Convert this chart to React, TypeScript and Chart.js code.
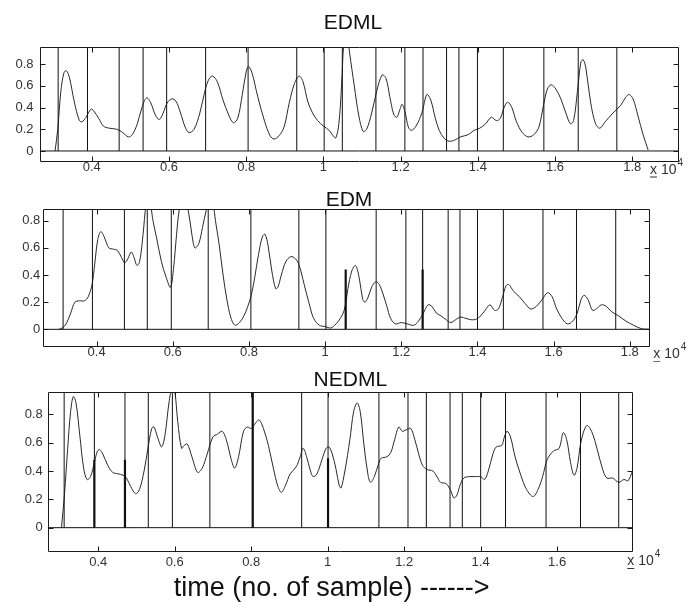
import React, { useEffect, useRef } from 'react';
import { Chart, registerables } from 'chart.js';

Chart.register(...registerables);

// ---- shared tick values (x in units of 10^4 samples) ----
const X_TICKS = [0.4, 0.6, 0.8, 1.0, 1.2, 1.4, 1.6, 1.8];
const Y_TICKS = [0, 0.2, 0.4, 0.6, 0.8];
const X_AXIS_LABEL = 'time (no. of sample) ------>';

// ---- EDML ----
const EDML_X = [0.305, 0.312, 0.320, 0.328, 0.334, 0.342, 0.355, 0.368, 0.375, 0.385, 0.398, 0.405, 0.418, 0.430, 0.445, 0.465, 0.480, 0.495, 0.505, 0.518, 0.530, 0.542, 0.552, 0.565, 0.575, 0.585, 0.595, 0.607, 0.618, 0.630, 0.642, 0.652, 0.665, 0.680, 0.695, 0.705, 0.713, 0.725, 0.740, 0.755, 0.767, 0.778, 0.790, 0.800, 0.806, 0.815, 0.830, 0.848, 0.862, 0.872, 0.885, 0.898, 0.912, 0.925, 0.937, 0.947, 0.960, 0.972, 0.985, 1.000, 1.015, 1.025, 1.032, 1.040, 1.047, 1.053, 1.060, 1.068, 1.080, 1.092, 1.103, 1.112, 1.125, 1.138, 1.152, 1.162, 1.172, 1.182, 1.190, 1.198, 1.204, 1.212, 1.220, 1.228, 1.240, 1.255, 1.268, 1.278, 1.290, 1.300, 1.312, 1.325, 1.340, 1.355, 1.375, 1.390, 1.405, 1.420, 1.435, 1.448, 1.458, 1.468, 1.477, 1.488, 1.500, 1.515, 1.530, 1.545, 1.558, 1.570, 1.580, 1.590, 1.602, 1.615, 1.628, 1.640, 1.648, 1.658, 1.667, 1.673, 1.680, 1.692, 1.705, 1.716, 1.730, 1.750, 1.770, 1.782, 1.792, 1.802, 1.815, 1.828, 1.841];
const EDML_Y = [0, 0.2, 0.55, 0.72, 0.74, 0.68, 0.45, 0.28, 0.27, 0.31, 0.385, 0.37, 0.3, 0.23, 0.21, 0.2, 0.17, 0.13, 0.15, 0.25, 0.4, 0.49, 0.45, 0.33, 0.29, 0.35, 0.44, 0.48, 0.46, 0.35, 0.22, 0.17, 0.2, 0.35, 0.58, 0.67, 0.69, 0.64, 0.47, 0.33, 0.26, 0.3, 0.52, 0.73, 0.78, 0.72, 0.5, 0.27, 0.14, 0.11, 0.14, 0.22, 0.45, 0.62, 0.69, 0.64, 0.45, 0.35, 0.28, 0.23, 0.19, 0.14, 0.12, 0.25, 0.6, 1.0, 1.1, 0.9, 0.6, 0.32, 0.18, 0.2, 0.35, 0.55, 0.7, 0.67, 0.5, 0.34, 0.31, 0.38, 0.43, 0.35, 0.22, 0.19, 0.23, 0.35, 0.52, 0.47, 0.3, 0.19, 0.12, 0.09, 0.1, 0.13, 0.15, 0.19, 0.21, 0.25, 0.31, 0.28, 0.3, 0.4, 0.45, 0.4, 0.27, 0.17, 0.13, 0.15, 0.22, 0.42, 0.57, 0.61, 0.57, 0.48, 0.35, 0.25, 0.28, 0.55, 0.82, 0.84, 0.76, 0.45, 0.25, 0.21, 0.27, 0.35, 0.42, 0.49, 0.52, 0.48, 0.32, 0.15, 0.01];
const EDML_BOUNDS = [0.313, 0.389, 0.471, 0.533, 0.594, 0.695, 0.805, 0.931, 1.002, 1.049, 1.136, 1.211, 1.258, 1.319, 1.351, 1.399, 1.466, 1.571, 1.660, 1.760];
const EDML_STEM_X: number[] = [];
const EDML_STEM_H: number[] = [];

// ---- EDM ----
const EDM_X = [0.300, 0.310, 0.320, 0.332, 0.343, 0.355, 0.368, 0.378, 0.388, 0.395, 0.403, 0.411, 0.420, 0.432, 0.445, 0.455, 0.465, 0.474, 0.482, 0.491, 0.498, 0.506, 0.513, 0.522, 0.530, 0.538, 0.548, 0.557, 0.570, 0.583, 0.594, 0.602, 0.610, 0.617, 0.628, 0.642, 0.650, 0.658, 0.668, 0.678, 0.688, 0.697, 0.706, 0.712, 0.722, 0.732, 0.742, 0.752, 0.763, 0.775, 0.787, 0.797, 0.806, 0.815, 0.825, 0.835, 0.842, 0.850, 0.860, 0.870, 0.876, 0.885, 0.897, 0.910, 0.922, 0.932, 0.945, 0.958, 0.970, 0.985, 1.000, 1.015, 1.025, 1.035, 1.050, 1.060, 1.070, 1.080, 1.090, 1.098, 1.104, 1.112, 1.122, 1.133, 1.142, 1.152, 1.162, 1.172, 1.185, 1.200, 1.215, 1.233, 1.245, 1.258, 1.270, 1.280, 1.292, 1.304, 1.318, 1.330, 1.342, 1.356, 1.370, 1.390, 1.405, 1.420, 1.433, 1.445, 1.455, 1.466, 1.475, 1.482, 1.495, 1.510, 1.525, 1.540, 1.555, 1.570, 1.584, 1.596, 1.608, 1.622, 1.636, 1.650, 1.662, 1.672, 1.680, 1.690, 1.702, 1.712, 1.725, 1.738, 1.752, 1.770, 1.790, 1.810, 1.830, 1.855];
const EDM_Y = [0, 0.01, 0.04, 0.12, 0.2, 0.21, 0.21, 0.24, 0.33, 0.48, 0.66, 0.72, 0.68, 0.6, 0.59, 0.58, 0.53, 0.49, 0.52, 0.57, 0.53, 0.47, 0.5, 0.7, 0.92, 0.97, 0.8, 0.68, 0.5, 0.38, 0.31, 0.45, 0.7, 0.88, 1.0, 0.85, 0.7, 0.6, 0.63, 0.75, 0.88, 0.97, 0.92, 0.8, 0.62, 0.4, 0.22, 0.09, 0.03, 0.05, 0.1, 0.17, 0.25, 0.38, 0.55, 0.68, 0.7, 0.62, 0.43, 0.3, 0.31, 0.4, 0.5, 0.535, 0.52, 0.47, 0.33, 0.19, 0.08, 0.03, 0.02, 0.01, 0.03, 0.06, 0.14, 0.3, 0.43, 0.47, 0.37, 0.23, 0.2, 0.23, 0.31, 0.35, 0.33, 0.26, 0.17, 0.08, 0.04, 0.05, 0.04, 0.03, 0.06, 0.12, 0.18, 0.17, 0.12, 0.1, 0.07, 0.05, 0.07, 0.09, 0.08, 0.07, 0.09, 0.14, 0.18, 0.14, 0.15, 0.24, 0.32, 0.33, 0.28, 0.24, 0.19, 0.15, 0.17, 0.22, 0.27, 0.24, 0.15, 0.08, 0.04, 0.06, 0.12, 0.22, 0.25, 0.22, 0.14, 0.15, 0.18, 0.17, 0.13, 0.1, 0.06, 0.03, 0.005, 0];
const EDM_BOUNDS = [0.312, 0.389, 0.473, 0.533, 0.596, 0.693, 0.805, 0.931, 1.002, 1.134, 1.212, 1.256, 1.323, 1.354, 1.400, 1.468, 1.572, 1.660, 1.763];
const EDM_STEM_X = [1.054, 1.256];
const EDM_STEM_H = [0.44, 0.44];

// ---- NEDML ----
const NEDML_X = [0.304, 0.312, 0.320, 0.328, 0.335, 0.342, 0.352, 0.362, 0.371, 0.380, 0.390, 0.398, 0.404, 0.412, 0.425, 0.438, 0.452, 0.465, 0.474, 0.485, 0.498, 0.508, 0.520, 0.530, 0.540, 0.546, 0.555, 0.566, 0.575, 0.585, 0.594, 0.600, 0.608, 0.618, 0.625, 0.633, 0.645, 0.660, 0.672, 0.685, 0.700, 0.712, 0.724, 0.735, 0.748, 0.757, 0.767, 0.780, 0.790, 0.800, 0.812, 0.821, 0.832, 0.845, 0.858, 0.870, 0.879, 0.890, 0.902, 0.918, 0.928, 0.936, 0.945, 0.955, 0.962, 0.972, 0.985, 0.996, 1.003, 1.012, 1.022, 1.030, 1.035, 1.045, 1.058, 1.068, 1.077, 1.085, 1.095, 1.105, 1.112, 1.122, 1.133, 1.140, 1.155, 1.165, 1.175, 1.186, 1.195, 1.205, 1.217, 1.228, 1.238, 1.248, 1.260, 1.275, 1.288, 1.295, 1.310, 1.322, 1.330, 1.338, 1.346, 1.356, 1.370, 1.385, 1.400, 1.410, 1.420, 1.432, 1.441, 1.455, 1.462, 1.469, 1.478, 1.490, 1.505, 1.520, 1.537, 1.550, 1.562, 1.574, 1.590, 1.605, 1.616, 1.625, 1.635, 1.644, 1.652, 1.662, 1.677, 1.690, 1.705, 1.718, 1.730, 1.745, 1.761, 1.775, 1.785, 1.797];
const NEDML_Y = [0, 0.24, 0.55, 0.82, 0.925, 0.88, 0.65, 0.42, 0.34, 0.36, 0.46, 0.54, 0.55, 0.52, 0.44, 0.39, 0.38, 0.37, 0.35, 0.29, 0.24, 0.27, 0.4, 0.56, 0.7, 0.71, 0.64, 0.57, 0.66, 0.88, 1.0, 0.97, 0.75, 0.56, 0.58, 0.59, 0.5, 0.39, 0.42, 0.52, 0.64, 0.66, 0.68, 0.62, 0.48, 0.42, 0.5, 0.68, 0.71, 0.7, 0.74, 0.76, 0.7, 0.58, 0.42, 0.29, 0.25, 0.3, 0.38, 0.43, 0.5, 0.56, 0.5, 0.4, 0.36, 0.38, 0.48, 0.56, 0.57, 0.52, 0.41, 0.3, 0.28, 0.4, 0.62, 0.82, 0.88, 0.82, 0.58, 0.38, 0.32, 0.36, 0.45, 0.49, 0.5, 0.53, 0.62, 0.71, 0.68, 0.69, 0.7, 0.62, 0.52, 0.44, 0.41, 0.4, 0.35, 0.32, 0.31, 0.26, 0.21, 0.23, 0.3, 0.35, 0.36, 0.36, 0.36, 0.34, 0.4, 0.52, 0.57, 0.58, 0.64, 0.68, 0.64, 0.5, 0.37, 0.27, 0.22, 0.27, 0.36, 0.48, 0.54, 0.56, 0.67, 0.62, 0.46, 0.37, 0.42, 0.6, 0.72, 0.68, 0.55, 0.42, 0.35, 0.35, 0.32, 0.34, 0.33, 0.4];
const NEDML_BOUNDS = [0.311, 0.390, 0.470, 0.531, 0.594, 0.692, 0.804, 0.932, 1.001, 1.134, 1.210, 1.258, 1.320, 1.352, 1.400, 1.465, 1.571, 1.661, 1.761];
const NEDML_STEM_X = [0.390, 0.470, 0.804, 1.001];
const NEDML_STEM_H = [0.48, 0.48, 0.96, 0.49];

type PanelCfg = {
  title: string;
  xs: number[]; ys: number[]; bounds: number[]; stemX: number[]; stemH: number[];
  xMin: number; xMax: number; yMin: number; yMax: number;
  top: number; height: number;
  area: { left: number; right: number; top: number; bottom: number };
  xPad: number; yPad: number;
  titlePos: [number, number];
  expPos: [number, number];
  axisLabel?: { text: string; x: number; y: number };
};

const PANELS: PanelCfg[] = [
  {
    title: 'EDML', xs: EDML_X, ys: EDML_Y, bounds: EDML_BOUNDS, stemX: EDML_STEM_X, stemH: EDML_STEM_H,
    xMin: 0.266, xMax: 1.921, yMin: -0.097, yMax: 0.958,
    top: 0, height: 182,
    area: { left: 40, right: 679, top: 47, bottom: 161.5 },
    xPad: -2, yPad: 6.5,
    titlePos: [353, 29], expPos: [650, 173.5],
  },
  {
    title: 'EDM', xs: EDM_X, ys: EDM_Y, bounds: EDM_BOUNDS, stemX: EDM_STEM_X, stemH: EDM_STEM_H,
    xMin: 0.26, xMax: 1.853, yMin: -0.128, yMax: 0.886,
    top: 182, height: 180,
    area: { left: 43.3, right: 650, top: 209, bottom: 346.7 },
    xPad: -2, yPad: 3,
    titlePos: [349, 206], expPos: [653.3, 358.3],
  },
  {
    title: 'NEDML', xs: NEDML_X, ys: NEDML_Y, bounds: NEDML_BOUNDS, stemX: NEDML_STEM_X, stemH: NEDML_STEM_H,
    xMin: 0.268, xMax: 1.797, yMin: -0.168, yMax: 0.957,
    top: 362, height: 240,
    area: { left: 47.7, right: 632.5, top: 392, bottom: 551.5 },
    xPad: 3, yPad: 5,
    titlePos: [350.3, 386], expPos: [627.3, 565],
    axisLabel: { text: X_AXIS_LABEL, x: 331.7, y: 596 },
  },
];

const FONT = '"Liberation Sans", Arial, Helvetica, sans-serif';

function makeDecor(cfg: PanelCfg) {
  return {
    id: 'matlabDecor_' + cfg.title,
    afterDatasetsDraw(chart: any) {
      const ctx = chart.ctx as CanvasRenderingContext2D;
      const a = chart.chartArea;
      const xs = chart.scales.x;
      const ys = chart.scales.y;
      ctx.save();
      ctx.strokeStyle = '#1a1a1a';
      ctx.lineWidth = 1;
      const L = Math.round(a.left) + 0.5, R = Math.round(a.right) - 0.5;
      const T = Math.round(a.top) + 0.5, B = Math.round(a.bottom) - 0.5;
      ctx.beginPath();
      ctx.rect(L, T, R - L, B - T);
      ctx.stroke();
      ctx.beginPath();
      for (const v of X_TICKS) {
        if (v < cfg.xMin || v > cfg.xMax) continue;
        const p = Math.round(xs.getPixelForValue(v)) + 0.5;
        ctx.moveTo(p, T); ctx.lineTo(p, T + 5);
        ctx.moveTo(p, B); ctx.lineTo(p, B - 5);
      }
      for (const v of Y_TICKS) {
        const p = Math.round(ys.getPixelForValue(v)) + 0.5;
        ctx.moveTo(L, p); ctx.lineTo(L + 5, p);
        ctx.moveTo(R, p); ctx.lineTo(R - 5, p);
      }
      ctx.stroke();
      ctx.restore();
    },
    afterDraw(chart: any) {
      const ctx = chart.ctx as CanvasRenderingContext2D;
      const off = cfg.top;
      ctx.save();
      ctx.fillStyle = '#111';
      ctx.textBaseline = 'alphabetic';
      // title
      ctx.font = '21px ' + FONT;
      ctx.textAlign = 'center';
      ctx.fillText(cfg.title, cfg.titlePos[0], cfg.titlePos[1] - off);
      // exponent label
      ctx.textAlign = 'left';
      ctx.fillStyle = '#333';
      ctx.font = '14px ' + FONT;
      const ex = cfg.expPos[0], ey = cfg.expPos[1] - off;
      const base = 'x 10';
      ctx.fillText(base, ex, ey);
      const w = ctx.measureText(base).width;
      ctx.fillRect(ex, ey + 3, 7, 1);
      ctx.font = '10px ' + FONT;
      ctx.fillText('4', ex + w + 1, ey - 8);
      // axis label
      if (cfg.axisLabel) {
        ctx.fillStyle = '#111';
        ctx.font = '27px ' + FONT;
        ctx.textAlign = 'center';
        ctx.fillText(cfg.axisLabel.text, cfg.axisLabel.x, cfg.axisLabel.y - off);
      }
      ctx.restore();
    },
  };
}

function Panel({ cfg }: { cfg: PanelCfg }) {
  const ref = useRef<HTMLCanvasElement>(null);
  useEffect(() => {
    const canvas = ref.current;
    if (!canvas) return;
    const curve = cfg.xs.map((x, i) => ({ x, y: cfg.ys[i] }));
    const vlines: any[] = [];
    cfg.bounds.forEach((b) => { vlines.push({ x: b, y: 0 }, { x: b, y: 5 }, { x: b, y: null }); });
    const stems: any[] = [];
    cfg.stemX.forEach((b, i) => { stems.push({ x: b, y: 0 }, { x: b, y: cfg.stemH[i] }, { x: b, y: null }); });
    const zero = [{ x: cfg.xMin, y: 0 }, { x: cfg.xMax, y: 0 }];
    const areaLeft = cfg.area.left;
    const padRight = 688 - cfg.area.right;
    const padTop = cfg.area.top - cfg.top;
    const xHeight = cfg.top + cfg.height - cfg.area.bottom;

    const chart = new Chart(canvas, {
      type: 'line',
      data: {
        datasets: [
          { data: zero, borderColor: '#111', borderWidth: 1, pointRadius: 0, tension: 0 },
          { data: vlines, borderColor: '#111', borderWidth: 1, pointRadius: 0, tension: 0, spanGaps: false },
          { data: stems, borderColor: '#111', borderWidth: 2.2, pointRadius: 0, tension: 0, spanGaps: false },
          { data: curve, borderColor: '#2a2a2a', borderWidth: 1, pointRadius: 0, tension: 0.35 },
        ],
      },
      options: {
        responsive: false,
        maintainAspectRatio: false,
        animation: false,
        devicePixelRatio: 1,
        events: [],
        layout: { padding: { left: 0, right: padRight, top: padTop, bottom: 0 } },
        plugins: { legend: { display: false }, tooltip: { enabled: false }, title: { display: false } },
        scales: {
          x: {
            type: 'linear',
            min: cfg.xMin,
            max: cfg.xMax,
            grid: { display: false, drawTicks: false },
            border: { display: false },
            afterBuildTicks: (s: any) => {
              s.ticks = X_TICKS.filter((v) => v >= cfg.xMin && v <= cfg.xMax).map((v) => ({ value: v }));
            },
            afterFit: (s: any) => { s.height = xHeight; },
            ticks: {
              padding: cfg.xPad,
              maxRotation: 0,
              autoSkip: false,
              color: '#333',
              font: { family: FONT, size: 13 },
              callback: (v: any) => String(Number(Number(v).toFixed(1))),
            },
          },
          y: {
            type: 'linear',
            min: cfg.yMin,
            max: cfg.yMax,
            grid: { display: false, drawTicks: false },
            border: { display: false },
            afterBuildTicks: (s: any) => { s.ticks = Y_TICKS.map((v) => ({ value: v })); },
            afterFit: (s: any) => { s.width = areaLeft; },
            ticks: {
              padding: cfg.yPad,
              autoSkip: false,
              color: '#333',
              font: { family: FONT, size: 13 },
              callback: (v: any) => String(Number(Number(v).toFixed(1))),
            },
          },
        },
      },
      plugins: [makeDecor(cfg)],
    } as any);
    return () => chart.destroy();
  }, [cfg]);
  return (
    <canvas
      ref={ref}
      width={688}
      height={cfg.height}
      style={{ position: 'absolute', left: 0, top: cfg.top, width: 688, height: cfg.height, display: 'block' }}
    />
  );
}

export default function App() {
  return (
    <div style={{ position: 'fixed', left: 0, top: 0, width: 688, height: 602, background: '#fff', overflow: 'hidden' }}>
      {PANELS.map((p) => (
        <Panel key={p.title} cfg={p} />
      ))}
    </div>
  );
}
